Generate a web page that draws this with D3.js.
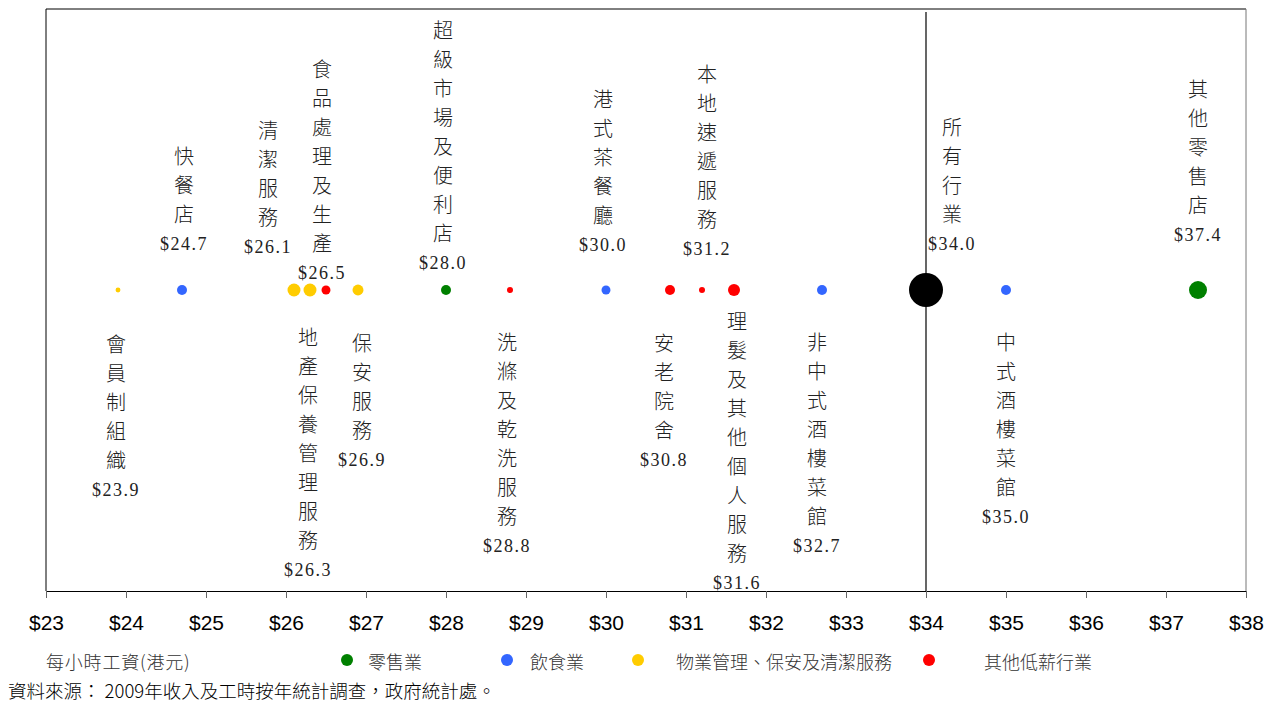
<!DOCTYPE html>
<html>
<head>
<meta charset="utf-8">
<script src="https://cdn.jsdelivr.net/npm/d3@7"></script>
<style>
  body { margin: 0; background: #fff; }
  svg text { font-family: "Noto Sans CJK TC", "Liberation Sans", sans-serif; }
  .tick text { font-family: "Liberation Sans", Arial, sans-serif; }
</style>
</head>
<body>
<div class="chart"></div>
<script>
// industries, hourly wage (HK$), sector group, relative size of bubble
let names = ["會員制組織","快餐店","清潔服務","地產保養管理服務","食品處理及生產","保安服務",
             "超級市場及便利店","洗滌及乾洗服務","港式茶餐廳","安老院舍","本地速遞服務",
             "理髮及其他個人服務","非中式酒樓菜館","所有行業","中式酒樓菜館","其他零售店"];
let wages = [23.9,24.7,26.1,26.3,26.5,26.9,28.0,28.8,30.0,30.8,31.2,31.6,32.7,34.0,35.0,37.4];
let groups = ["prop","food","prop","prop","other","prop","retail","other","food","other","other",
              "other","food","all","food","retail"];
let sizes = [6,25,42,42,20,30,25,9,20,25,9,36,25,289,25,81];

let groupKeys = ["retail","food","prop","other"];
let groupNames = ["零售業","飲食業","物業管理、保安及清潔服務","其他低薪行業"];
let groupColors = {retail:"#008000", food:"#3366ff", prop:"#ffcc00", other:"#ff0000", all:"#000000"};

let xTicks = d3.range(23,39,1);

// label placement: side, x nudge, y of first character
let labelSide = ["down","up","up","down","up","down","up","down","up","down","up","down","down","up","down","up"];
let labelDx   = [-2,2,-26,-2,-4,4,-3,-3,-3,-6,5,3,-5,26,0,0];
let labelTop  = [343,155,129,336,68,342,29,341,98,342,73,320,341,126,341,88];

let width = 1278, height = 702;
let margin = {left:46, right:32, top:9, bottom:111};
let baseY = 290;

let svg = d3.select(".chart").append("svg").attr("width",width).attr("height",height);

let x = d3.scaleLinear().domain([23,38]).range([margin.left, width-margin.right]);
let r = d3.scaleSqrt().domain([0,289]).range([0,17]);
let plotBottom = height - margin.bottom;

// frame
svg.append("line").attr("x1",margin.left).attr("x2",width-margin.right)
   .attr("y1",margin.top).attr("y2",margin.top).attr("stroke","#000");
svg.append("line").attr("x1",margin.left).attr("x2",margin.left)
   .attr("y1",margin.top).attr("y2",plotBottom).attr("stroke","#000");
svg.append("line").attr("x1",width-margin.right).attr("x2",width-margin.right)
   .attr("y1",margin.top).attr("y2",plotBottom).attr("stroke","#777");

// average line
svg.append("line").attr("x1",x(34)).attr("x2",x(34))
   .attr("y1",margin.top+3).attr("y2",plotBottom).attr("stroke","#000").attr("stroke-width",1.2);

let xAxis = d3.axisBottom(x).tickValues(xTicks).tickFormat(d => "$" + d).tickSizeOuter(0).tickSizeInner(7).tickPadding(17);
let gx = svg.append("g").attr("transform","translate(0," + plotBottom + ")").call(xAxis);
gx.select(".domain").attr("stroke","#000").attr("stroke-width",1.2);
gx.selectAll(".tick line").attr("stroke","#666");
gx.selectAll(".tick text").attr("font-size",21).attr("fill","#000");

// bubbles
svg.append("g").selectAll("circle").data(wages).join("circle")
   .attr("cx", d => x(d)).attr("cy", baseY)
   .attr("r", (d,i) => r(sizes[i]))
   .attr("fill", (d,i) => groupColors[groups[i]]);

// vertical labels
let step = 29;
names.forEach((name, i) => {
  let lx = x(wages[i]) + labelDx[i];
  let chars = name.split("");
  let g = svg.append("g");
  chars.forEach((c, j) => {
    g.append("text").attr("x",lx).attr("y",labelTop[i] + j*step)
     .attr("text-anchor","middle").attr("dominant-baseline","central")
     .attr("font-size",20).attr("font-weight",300).attr("fill","#222").text(c);
  });
  g.append("text").attr("x",lx).attr("y",labelTop[i] + (chars.length-1)*step + 31)
   .attr("text-anchor","middle").attr("dominant-baseline","central")
   .style("font-family","'Liberation Serif', serif").attr("font-size",18)
   .attr("letter-spacing","1.5px").attr("fill","#222").text("$" + wages[i].toFixed(1));
});

// legend
let legY = 661;
svg.append("text").attr("x",46).attr("y",legY).attr("dominant-baseline","central")
   .attr("font-size",18).attr("font-weight",300).attr("letter-spacing","0.8px").attr("fill","#333").text("每小時工資(港元)");
let legDotX = [347,507,638,929];
let legTextX = [368,530,676,984];
groupKeys.forEach((k, i) => {
  svg.append("circle").attr("cx",legDotX[i]).attr("cy",legY-1).attr("r",6).attr("fill",groupColors[k]);
  svg.append("text").attr("x",legTextX[i]).attr("y",legY).attr("dominant-baseline","central")
     .attr("font-size",18).attr("font-weight",300).attr("fill","#333").text(groupNames[i]);
});

svg.append("text").attr("x",8).attr("y",690).attr("dominant-baseline","central")
   .attr("font-size",18.5).attr("font-weight",300).attr("fill","#000").text("資料來源： 2009年收入及工時按年統計調查，政府統計處。");
</script>
</body>
</html>
